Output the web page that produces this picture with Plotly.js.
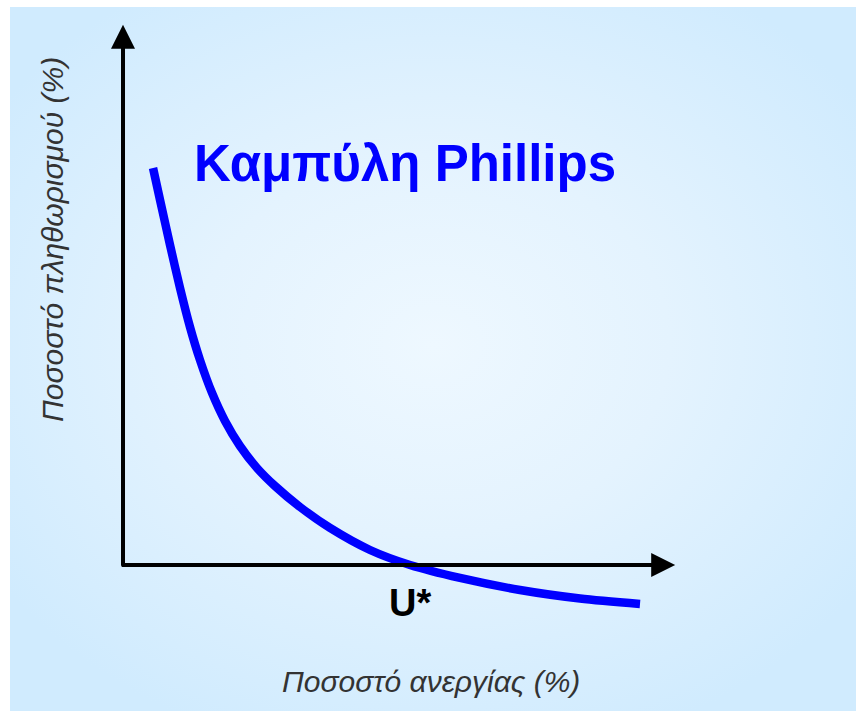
<!DOCTYPE html>
<html>
<head>
<meta charset="utf-8">
<script src="https://cdn.plot.ly/plotly-3.0.1.min.js"></script>
<style>
  html, body { margin: 0; padding: 0; background: #ffffff; }
  #wrap { position: relative; width: 856px; height: 711px; overflow: hidden; }
  #bg { position: absolute; left: 10px; top: 7px; right: 0; bottom: 0;
        background: radial-gradient(ellipse 62% 60% at 50% 48%, #eef8ff 0%, #e4f3fe 45%, #d0ebfe 100%); }
  #chart { position: absolute; left: 0; top: 0; width: 856px; height: 711px; }
</style>
</head>
<body>
<div id="wrap"><div id="bg"></div><div id="chart"></div></div>
<script>
// Phillips curve (unemployment %, inflation % relative to axis origin)
const unemployment = [0.523, 0.645, 0.819, 0.993, 1.167, 1.341, 1.551, 1.777, 2.038, 2.334, 2.648, 3.084, 3.606, 4.303, 5.000, 5.871, 6.916, 7.962, 9.007];
const inflation    = [6.916, 6.359, 5.575, 4.826, 4.146, 3.571, 2.997, 2.509, 2.073, 1.690, 1.376, 1.010, 0.645, 0.261, 0.000, -0.226, -0.436, -0.584, -0.679];
const naturalRate = 5.0;
const naturalRateLabel = "U*";
const chartTitle = "Καμπύλη Phillips";
const xAxisTitle = "Ποσοστό ανεργίας (%)";
const yAxisTitle = "Ποσοστό πληθωρισμού (%)";
const xAxisEnd = 9.62;
const yAxisEnd = 9.41;

const font = "Liberation Sans, Arial, Helvetica, sans-serif";

const traces = [{
  x: unemployment, y: inflation,
  type: "scatter", mode: "lines",
  line: { color: "#0000ff", width: 8.5, shape: "spline", smoothing: 0.8 },
  hoverinfo: "skip", showlegend: false
}];

const layout = {
  width: 856, height: 711,
  margin: { l: 0, r: 0, t: 0, b: 0, pad: 0 },
  paper_bgcolor: "rgba(0,0,0,0)",
  plot_bgcolor: "rgba(0,0,0,0)",
  showlegend: false,
  xaxis: { range: [-2.143, 12.77], visible: false, fixedrange: true },
  yaxis: { range: [-2.544, 9.843], visible: false, fixedrange: true },
  title: {
    text: "<b>" + chartTitle + "</b>",
    font: { family: font, size: 51, color: "#0000ff" },
    x: 405 / 856, xanchor: "center", xref: "paper",
    y: 1 - 163 / 711, yanchor: "middle", yref: "paper"
  },
  annotations: [
    { // y axis with arrow
      x: 0, y: yAxisEnd, xref: "x", yref: "y",
      ax: 0, ay: -0.04, axref: "x", ayref: "y",
      showarrow: true, arrowhead: 2, arrowsize: 1.2, arrowwidth: 4, arrowcolor: "#000000", text: ""
    },
    { // x axis with arrow
      x: xAxisEnd, y: 0, xref: "x", yref: "y",
      ax: -0.05, ay: 0, axref: "x", ayref: "y",
      showarrow: true, arrowhead: 2, arrowsize: 1.2, arrowwidth: 4, arrowcolor: "#000000", text: ""
    },
    {
      x: naturalRate, y: 0, xref: "x", yref: "y",
      yshift: -38, showarrow: false, xanchor: "center", yanchor: "middle",
      text: "<b>" + naturalRateLabel + "</b>",
      font: { family: font, size: 38, color: "#000000" }
    },
    {
      x: 431 / 856, y: 1 - 681 / 711, xref: "paper", yref: "paper",
      xanchor: "center", yanchor: "middle",
      showarrow: false, text: "<i>" + xAxisTitle + "</i>",
      font: { family: font, size: 30, color: "#333333" }
    },
    {
      x: 52 / 856, y: 1 - 240 / 711, xref: "paper", yref: "paper",
      xanchor: "center", yanchor: "middle",
      showarrow: false, textangle: -90, text: "<i>" + yAxisTitle + "</i>",
      font: { family: font, size: 30, color: "#333333" }
    }
  ]
};

Plotly.newPlot("chart", traces, layout, { displayModeBar: false, staticPlot: true });
</script>
</body>
</html>
